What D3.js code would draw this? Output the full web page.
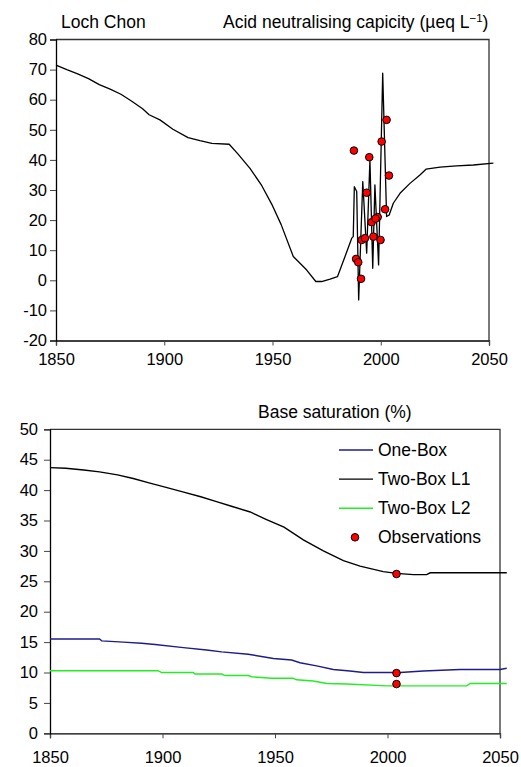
<!DOCTYPE html>
<html>
<head>
<meta charset="utf-8">
<script src="https://cdn.jsdelivr.net/npm/d3@7"></script>
<style>
  body { margin: 0; background: #fff; }
  svg { font-family: "Liberation Sans", Arial, sans-serif; }
</style>
</head>
<body>
<svg id="chart" width="521" height="767"></svg>
<script>
// --- top panel: acid neutralising capacity
const anYears = [1850, 1855, 1860, 1865, 1870, 1875, 1880, 1885, 1890, 1893, 1898, 1904, 1911, 1916.5, 1922, 1930,
  1934, 1939.6, 1945, 1950, 1954, 1959.6, 1965.8, 1970, 1972.7, 1976.6, 1980, 1983.5, 1986.6, 1987.3, 1987.8,
  1988.9, 1989.8, 1991.7, 1993.5, 1995, 1996.3, 1997.3, 1999, 2000.9, 2002.7, 2003.9, 2005.8, 2008.9, 2013.5,
  2018.1, 2020.9, 2027.4, 2035, 2042.8, 2052];
const anValues = [71.5, 70.0, 68.6, 67.0, 65.0, 63.5, 61.8, 59.5, 57.0, 55.0, 53.3, 50.2, 47.4, 46.4, 45.5, 45.2,
  42.0, 37.2, 31.5, 24.8, 18.5, 7.9, 3.4, -0.4, -0.4, 0.4, 1.2, 7.9, 14.0, 14.5, 31.1,
  29.5, -6.5, 32.8, 9.0, 40.0, 4.0, 31.7, 5.1, 68.8, 21.2, 21.7, 25.6, 28.9, 32.2,
  35.0, 36.9, 37.6, 38.0, 38.3, 38.9];
const anObsYears = [1987.6, 1994.7, 2000.4, 2002.7, 2003.8, 1993.5, 2002.0, 1995.8, 1998.6, 1997.6,
  1991.2, 1992.7, 1996.6, 1999.9, 1988.6, 1989.6, 1990.9];
const anObsValues = [43.1, 40.9, 46.1, 53.3, 34.8, 29.1, 23.6, 19.3, 21.0, 20.5,
  13.4, 14.0, 14.5, 13.4, 7.1, 6.0, 0.5];
const anTicks = [-20, -10, 0, 10, 20, 30, 40, 50, 60, 70, 80];

// --- bottom panel: base saturation
const oneBoxYears = [1850, 1872, 1873, 1882.6, 1890.7, 1896.7, 1909.3, 1919.6, 1926.3, 1938.1, 1949.3, 1957.4,
  1961.1, 1968.5, 1975.9, 1983.3, 1989.3, 2005.6, 2015.9, 2032.2, 2050, 2053];
const oneBoxValues = [15.5, 15.5, 15.2, 15.0, 14.8, 14.6, 14.1, 13.7, 13.4, 13.0, 12.3, 12.05,
  11.6, 11.1, 10.5, 10.25, 10.0, 10.0, 10.25, 10.5, 10.5, 10.7];
const l1Years = [1850, 1857, 1865, 1872, 1880, 1887, 1894, 1902, 1909, 1917, 1924, 1931, 1939, 1946, 1954,
  1962.6, 1971.5, 1980.4, 1987.8, 1998.1, 2004, 2011.5, 2017.4, 2019, 2053];
const l1Values = [43.7, 43.6, 43.3, 43.0, 42.5, 41.9, 41.2, 40.4, 39.7, 38.9, 38.1, 37.3, 36.4, 35.2, 33.9,
  31.8, 30.0, 28.4, 27.5, 26.6, 26.3, 26.1, 26.1, 26.4, 26.4];
const l2Years = [1850, 1898, 1899.6, 1913.7, 1914.4, 1926.3, 1927.8, 1938.1, 1939.6, 1948.5, 1958.1, 1959.6,
  1967, 1973, 1982, 1999.6, 2035.2, 2036.7, 2053];
const l2Values = [10.3, 10.3, 10.0, 10.0, 9.75, 9.75, 9.5, 9.5, 9.3, 9.05, 9.05, 8.8,
  8.6, 8.2, 8.1, 7.8, 7.8, 8.2, 8.2];
const bsObsYears = [2004, 2004, 2004];
const bsObsValues = [26.2, 9.9, 8.1];
const bsTicks = [0, 5, 10, 15, 20, 25, 30, 35, 40, 45, 50];

const yearTicks = [1850, 1900, 1950, 2000, 2050];
const seriesNames = ["One-Box", "Two-Box L1", "Two-Box L2", "Observations"];
const seriesColors = ["#1c1c8c", "#000000", "#22ee22", "#ff0000"];

const svg = d3.select("#chart");

const zip = (xs, ys) => xs.map((x, i) => ({ year: x, value: ys[i] }));

function drawPanel(opts) {
  const x = d3.scaleLinear().domain([1850, 2050]).range([opts.left, opts.left + opts.width]);
  const y = d3.scaleLinear().domain(opts.yDomain).range([opts.top + opts.height, opts.top]);

  // frame (top and right)
  svg.append("path")
    .attr("d", `M${x(1850)},${y(opts.yDomain[1])}H${x(2050)}V${y(opts.yDomain[0])}`)
    .attr("fill", "none")
    .attr("stroke", "#333")
    .attr("stroke-width", 1.3);

  const xAxis = svg.append("g")
    .attr("transform", `translate(0,${y(opts.yDomain[0])})`)
    .call(d3.axisBottom(x).tickValues(yearTicks).tickFormat(d3.format("d")).tickSize(5).tickPadding(opts.xPad));
  const yAxis = svg.append("g")
    .attr("transform", `translate(${x(1850)},0)`)
    .call(d3.axisLeft(y).tickValues(opts.yTicks).tickSize(6).tickPadding(opts.yPad));

  [xAxis, yAxis].forEach(g => {
    g.select(".domain").attr("stroke", "#000").attr("stroke-width", 1.3);
    g.selectAll(".tick line").attr("stroke", "#444");
    g.selectAll("text").attr("fill", "#000").style("font-size", "16.5px").style("font-family", "Liberation Sans, Arial, sans-serif");
  });
  yAxis.selectAll("text").text(d => d < 0 ? "-" + Math.abs(d) : d);

  return { x, y };
}

// ---------- top panel
const anPanel = drawPanel({ left: 56, width: 433, top: 39.5, height: 301, yDomain: [-20, 80], yTicks: anTicks, xPad: 8, yPad: 3 });

svg.append("path")
  .datum(zip(anYears, anValues))
  .attr("fill", "none")
  .attr("stroke", "#000")
  .attr("stroke-width", 1.3)
  .attr("stroke-linejoin", "round")
  .attr("d", d3.line().x(d => anPanel.x(d.year)).y(d => anPanel.y(d.value)));

svg.append("g").selectAll("circle")
  .data(zip(anObsYears, anObsValues))
  .join("circle")
  .attr("cx", d => anPanel.x(d.year))
  .attr("cy", d => anPanel.y(d.value))
  .attr("r", 3.8)
  .attr("fill", "#ff0000")
  .attr("stroke", "#000")
  .attr("stroke-width", 1);

svg.append("text").attr("x", 61).attr("y", 27.5).style("font-size", "17.5px").text("Loch Chon");
const anTitle = svg.append("text").attr("x", 223).attr("y", 27.5).style("font-size", "17.5px");
anTitle.append("tspan").text("Acid neutralising capicity (µeq L");
anTitle.append("tspan").attr("dy", -6).style("font-size", "11.5px").text("−1");
anTitle.append("tspan").attr("dy", 6).text(")");

// ---------- bottom panel
const bsPanel = drawPanel({ left: 50, width: 450, top: 429.3, height: 304, yDomain: [0, 50], yTicks: bsTicks, xPad: 13, yPad: 6 });

const bsLine = d3.line().x(d => bsPanel.x(d.year)).y(d => bsPanel.y(d.value));
[[oneBoxYears, oneBoxValues], [l1Years, l1Values], [l2Years, l2Values]].forEach(([xs, ys], i) => {
  svg.append("path")
    .datum(zip(xs, ys))
    .attr("fill", "none")
    .attr("stroke", seriesColors[i])
    .attr("stroke-width", 1.4)
    .attr("d", bsLine);
});

svg.append("g").selectAll("circle")
  .data(zip(bsObsYears, bsObsValues))
  .join("circle")
  .attr("cx", d => bsPanel.x(d.year))
  .attr("cy", d => bsPanel.y(d.value))
  .attr("r", 3.8)
  .attr("fill", "#ff0000")
  .attr("stroke", "#000")
  .attr("stroke-width", 1);

svg.append("text").attr("x", 258).attr("y", 417.5).style("font-size", "17.5px").text("Base saturation (%)");

// legend
const legend = svg.append("g").attr("transform", "translate(339,450)");
const item = legend.selectAll("g")
  .data(seriesNames)
  .join("g")
  .attr("transform", (d, i) => `translate(0,${i * 29.1})`);
item.filter((d, i) => i < 3).append("line")
  .attr("x1", 0).attr("x2", 34)
  .attr("stroke", (d, i) => seriesColors[i])
  .attr("stroke-width", 1.4);
item.filter((d, i) => i === 3).append("circle")
  .attr("cx", 16).attr("r", 3.8)
  .attr("fill", "#ff0000").attr("stroke", "#000");
item.append("text")
  .attr("x", 39)
  .attr("dy", "0.35em")
  .style("font-size", "17.5px")
  .text(d => d);
</script>
</body>
</html>
